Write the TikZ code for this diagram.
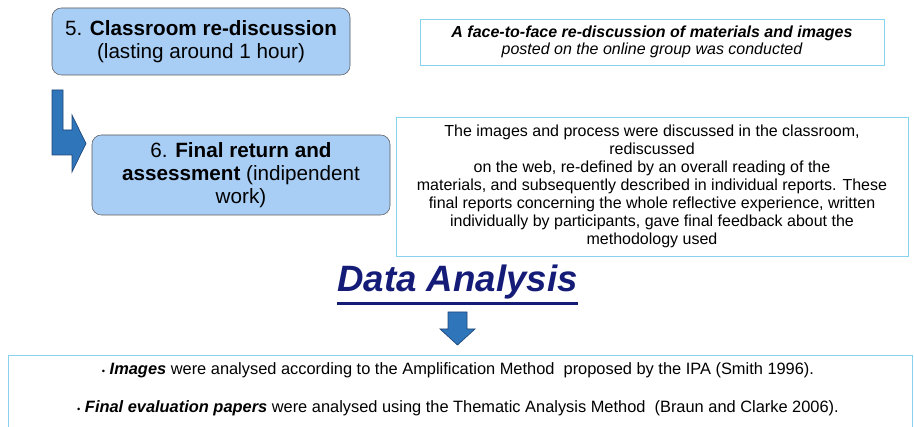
\documentclass[tikz,border=0pt]{standalone}
\usepackage{fontspec}
\setmainfont{Liberation Sans}
\definecolor{boxblue}{RGB}{168,206,246}
\definecolor{arrowblue}{RGB}{46,117,186}
\definecolor{arrowedge}{RGB}{30,70,120}
\definecolor{framecyan}{RGB}{135,210,238}
\definecolor{navytitle}{RGB}{20,28,120}

\begin{document}
\begin{tikzpicture}[x=0.75pt,y=-0.75pt,
    stepbox/.style={draw=black!65,fill=boxblue,rounded corners=7pt,align=center,
        minimum width=223.5pt,inner sep=0pt,font=\fontsize{15.5}{17.5}\selectfont},
    notebox/.style={draw=framecyan,align=center,inner sep=0pt},
    blockarrow/.style={fill=arrowblue,draw=arrowedge,line width=0.5pt}]
    \useasboundingbox (0,0) rectangle (914,427);

    % steps on the left
    \node[stepbox,minimum height=50.25pt] (rediscussion) at (201,41.5)
        {5. \textbf{Classroom re-discussion}\\(lasting around 1 hour)};
    \node[stepbox,minimum height=60pt] (finalreturn) at (241,175)
        {6. \textbf{Final return and}\\\textbf{assessment} (indipendent\\work)};

    % notes on the right
    \node[notebox,minimum width=348pt,minimum height=34.5pt,
        font=\fontsize{12}{12.75}\selectfont\itshape] (facenote) at (652,42)
        {\textbf{A face-to-face re-discussion of materials and images}\\posted on the online group was conducted};
    \node[notebox,minimum width=384pt,minimum height=104.25pt,
        font=\fontsize{12}{13.5}\selectfont] (webnote) at (652,186.5)
        {The images and process were discussed in the classroom,\\rediscussed\\
         on the web, re-defined by an overall reading of the\\
         materials, and subsequently described in individual reports. These\\
         final reports concerning the whole reflective experience, written\\
         individually by participants, gave final feedback about the\\
         methodology used};

    % bent arrow from step 5 to step 6
    \draw[blockarrow] (52,90) -- (63,90) -- (63,130) -- (72,130) -- (72,115) -- (86,143.5)
        -- (72,172) -- (72,155) -- (52,155) -- cycle;

    % data analysis
    \node[text=navytitle,inner sep=0pt,font=\fontsize{27.5}{30}\selectfont\bfseries\itshape]
        (title) at (457.5,282) {Data Analysis};
    \draw[navytitle,line width=2pt] ([yshift=-3pt]title.south west) -- ([yshift=-3pt]title.south east);

    \draw[blockarrow] (448,312) -- (467,312) -- (467,329) -- (475,329) -- (457.5,345)
        -- (440,329) -- (448,329) -- cycle;

    \node[notebox,anchor=north,minimum width=678pt,minimum height=70pt] (methods) at (460,355) {};
    \node[font=\fontsize{12.3}{13}\selectfont,inner sep=0pt] (imagesline) at (458,370)
        {{\scriptsize\textbullet} \textbf{\textit{Images}} were analysed according to the Amplification Method\ \ proposed by the IPA (Smith 1996).};
    \node[font=\fontsize{12.3}{13}\selectfont,inner sep=0pt] (papersline) at (458,408)
        {{\scriptsize\textbullet} \textbf{\textit{Final evaluation papers}} were analysed using the Thematic Analysis Method\ \ (Braun and Clarke 2006).};
\end{tikzpicture}
\end{document}
